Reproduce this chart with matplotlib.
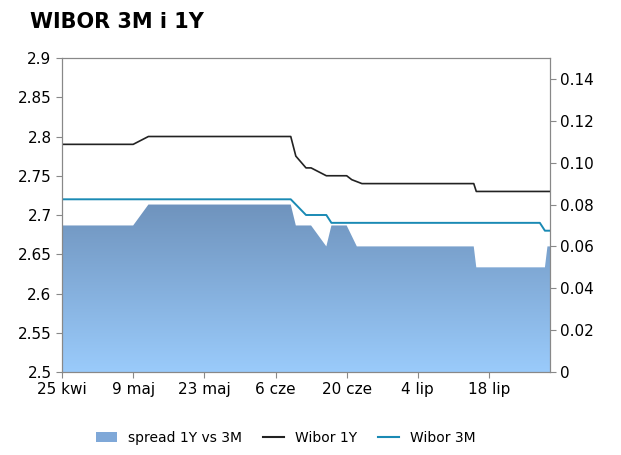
import matplotlib
matplotlib.use("Agg")
import matplotlib.pyplot as plt
import matplotlib.dates as mdates
import numpy as np
import pandas as pd
from matplotlib.lines import Line2D
from matplotlib.patches import Patch

start = pd.Timestamp("2011-04-25")
w1y_days = [0,14,17,45,46,48,49,52,56,57,59,81,81.5,96]
w1y_vals = [2.79,2.79,2.80,2.80,2.775,2.76,2.76,2.75,2.75,2.745,2.74,2.74,2.73,2.73]
w3m_days = [0,45,48,52,53,94,95,96]
w3m_vals = [2.72,2.72,2.70,2.70,2.69,2.69,2.68,2.68]
sp_days = [0,14,17,45,46,49,52,53,56,58,81,81.5,95,95.5,96]
sp_vals = [0.07,0.07,0.08,0.08,0.07,0.07,0.06,0.07,0.07,0.06,0.06,0.05,0.05,0.06,0.06]
tick_days = [0,14,28,42,56,70,84]
tick_labels = ["25 kwi","9 maj","23 maj","6 cze","20 cze","4 lip","18 lip"]

def d(days): return [start + pd.Timedelta(days=x) for x in days]

fig = plt.figure(figsize=(6.21,4.55), dpi=100)
ax = fig.add_axes([62/621, 1-372/455, 488/621, 314/455])
ax2 = ax.twinx()
ax.set_zorder(2); ax.patch.set_visible(False)

xs = mdates.date2num(d(sp_days))
poly = ax2.fill_between(xs, 0, sp_vals, color='none', lw=0)
grad = np.linspace(0,1,256).reshape(-1,1)
from matplotlib.colors import LinearSegmentedColormap
cmap = LinearSegmentedColormap.from_list("g", ["#9acbfb", "#6f93bd"])
im = ax2.imshow(grad, cmap=cmap, aspect='auto', origin='lower',
                extent=[xs[0], xs[-1], 0, 0.08], zorder=1)
path = poly.get_paths()[0]
im.set_clip_path(path, transform=ax2.transData)
ax2.set_ylim(0,0.15)
ax2.set_yticks(np.arange(0,0.141,0.02))
ax2.set_yticklabels(["0"]+[f"{v:.2f}" for v in np.arange(0.02,0.141,0.02)])

ax.plot(mdates.date2num(d(w1y_days)), w1y_vals, color="#222222", lw=1.2)
ax.plot(mdates.date2num(d(w3m_days)), w3m_vals, color="#1a8ab4", lw=1.4)
ax.set_ylim(2.5,2.9)
ax.set_yticks(np.arange(2.5,2.901,0.05))
ax.set_yticklabels([f"{v:g}" for v in np.round(np.arange(2.5,2.901,0.05),2)])
ax.set_xlim(xs[0], xs[-1])
ax.set_xticks(mdates.date2num(d(tick_days)))
ax.set_xticklabels(tick_labels)
for a in (ax, ax2):
    a.tick_params(labelsize=11, length=4, color="#888888")
    for s in a.spines.values(): s.set_color("#888888")

fig.text(30/621, 1-22/455, "WIBOR 3M i 1Y", fontsize=15, fontweight='bold', va='center')
handles = [Patch(facecolor="#7fa8d8", label="spread 1Y vs 3M"),
           Line2D([],[],color="#222222",label="Wibor 1Y"),
           Line2D([],[],color="#1a8ab4",label="Wibor 3M")]
fig.legend(handles=handles, loc='center', bbox_to_anchor=(0.46, 1-438/455), ncol=3,
           frameon=False, fontsize=10, handlelength=1.5, columnspacing=1.5)
fig.savefig("out.png", dpi=100)
